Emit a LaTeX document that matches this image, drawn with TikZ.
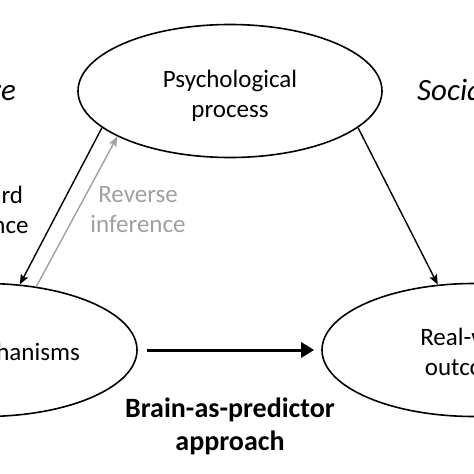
\documentclass[tikz,border=0pt]{standalone}
\usepackage{fontspec}
\setmainfont{Carlito}
\usetikzlibrary{shapes.geometric,arrows.meta}
\begin{document}
\begin{tikzpicture}[x=1pt,y=-1pt,
  oval/.style={draw,ellipse,line width=1.6pt,minimum width=304pt,minimum height=133pt,inner sep=0pt},
  lbl/.style={font=\fontsize{25}{30}\selectfont,align=center,inner sep=0pt},
  itlbl/.style={lbl,font=\fontsize{31}{36}\selectfont\itshape},
  thinarrow/.style={line width=1.4pt,-{Stealth[length=10pt,width=8pt,inset=2pt]}},
  greyarrow/.style={thinarrow,draw=revgrey},
  bigarrow/.style={line width=3pt,-{Triangle[length=13pt,width=15pt]}}
]
\definecolor{revgrey}{RGB}{160,160,160}
\useasboundingbox (0,0) rectangle (474,474);
\clip (0,0) rectangle (474,474);
\node[oval] (psy) at (230,91) {};
\node[lbl] (psytxt) at (230,96) {Psychological\\process};
\node[oval] (mech) at (-15,350) {};
\node[lbl,anchor=east] (mechtxt) at (80,352) {mechanisms};
\node[oval] (out) at (474,350) {};
\node[lbl] (outtxt) at (475,352) {Real-world\\outcomes};
\node[itlbl,anchor=east] (lit) at (16,90) {literature};
\node[itlbl,anchor=west] (soc) at (417,90) {Social};
\node[lbl] (fwd) at (-19,210) {Forward\\inference};
\node[lbl,text=revgrey] (rev) at (138,210) {Reverse\\inference};
\node[lbl,font=\fontsize{28}{33}\selectfont\bfseries] (bap) at (230,426) {Brain-as-predictor\\approach};
\draw[thinarrow] (psy.196) -- (mech.62);
\draw[greyarrow] (mech.51) -- (psy.202);
\draw[thinarrow] (psy.344) -- (out.119);
\draw[bigarrow,shorten <=9pt,shorten >=7pt] (mech.east) -- (out.west);
\end{tikzpicture}
\end{document}
